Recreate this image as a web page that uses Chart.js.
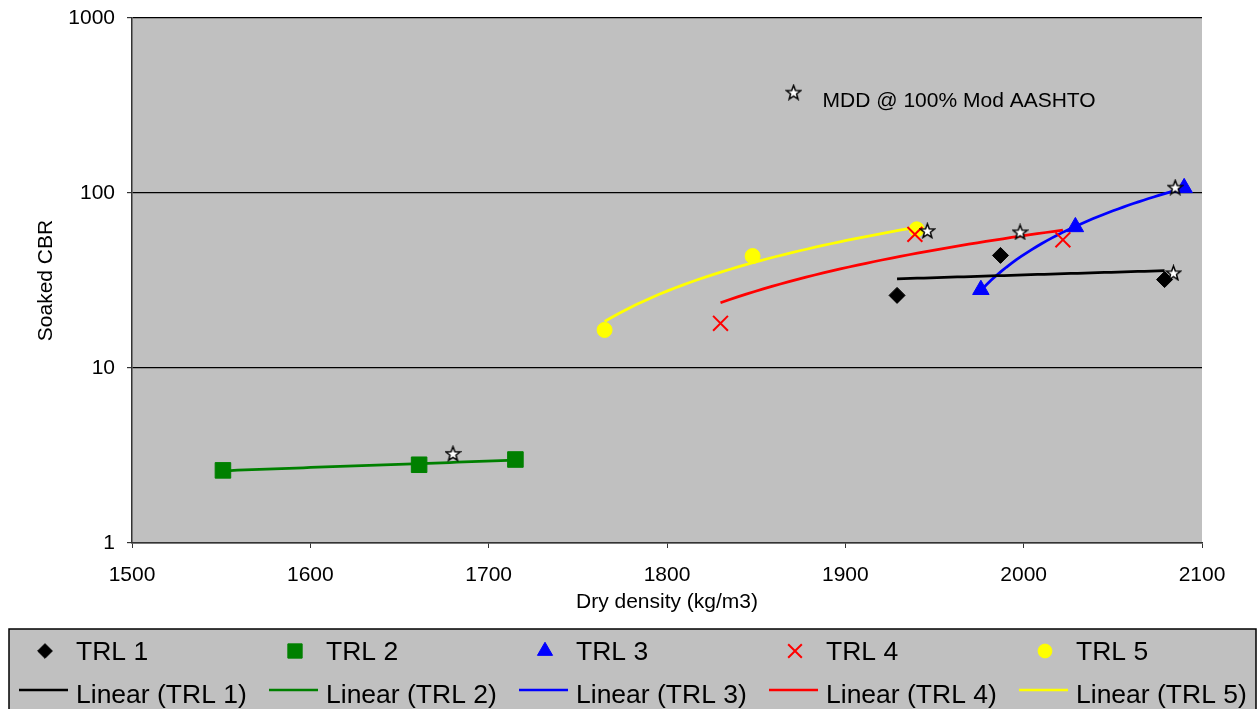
<!DOCTYPE html>
<html>
<head>
<meta charset="utf-8">
<title>Soaked CBR vs dry density</title>
<script src="https://cdn.jsdelivr.net/npm/chart.js@4/dist/chart.umd.min.js"></script>
<style>
  html, body { margin: 0; padding: 0; background: #fff; }
  #wrap { width: 1257px; height: 709px; position: relative; }
</style>
</head>
<body>
<div id="wrap"><canvas id="cbr-chart"></canvas></div>
<script>
// TRL samples: dry density (kg/m3) against soaked CBR
const trl1Density = [1929, 1987, 2079];
const trl1Cbr = [26, 44, 32];
const trl2Density = [1551, 1661, 1715];
const trl2Cbr = [2.6, 2.8, 3.0];
const trl3Density = [1976, 2029, 2090];
const trl3Cbr = [28, 64, 107];
const trl4Density = [1830, 1939, 2022];
const trl4Cbr = [18, 58, 54];
const trl5Density = [1765, 1848, 1940];
const trl5Cbr = [16.5, 43.6, 62];

// MDD @ 100% Mod AASHTO markers (the last one is the key beside the note)
const mddDensity = [1680, 1946, 1998, 2084, 2085, 1871];
const mddCbr = [3.25, 61, 60, 35, 108, 377];

const xTicks = [1500, 1600, 1700, 1800, 1900, 2000, 2100];
const yTicks = [1, 10, 100, 1000];

const FONT = '"Liberation Sans", Arial, sans-serif';
Chart.defaults.font.family = FONT;
Chart.defaults.color = '#000';

function toPoints(xs, ys) {
    return xs.map((x, i) => ({ x: x, y: ys[i] }));
}

// Least squares straight line through a series, sampled so it bends on the log axis
function linearTrend(xs, ys) {
    const n = xs.length;
    const mx = xs.reduce((a, b) => a + b, 0) / n;
    const my = ys.reduce((a, b) => a + b, 0) / n;
    let sxy = 0, sxx = 0;
    for (let i = 0; i < n; i++) {
        sxy += (xs[i] - mx) * (ys[i] - my);
        sxx += (xs[i] - mx) * (xs[i] - mx);
    }
    const slope = sxy / sxx;
    const lo = Math.min(...xs), hi = Math.max(...xs);
    const pts = [];
    const steps = 40;
    for (let i = 0; i <= steps; i++) {
        const x = lo + (hi - lo) * i / steps;
        pts.push({ x: x, y: my + slope * (x - mx) });
    }
    return pts;
}

// White five point star with a black outline
function makeStar(size) {
    const c = document.createElement('canvas');
    c.width = size;
    c.height = size;
    const g = c.getContext('2d');
    const cx = size / 2, cy = size / 2 + 0.8;
    const ro = size / 2 - 1, ri = ro * 0.42;
    g.beginPath();
    for (let i = 0; i < 10; i++) {
        const r = i % 2 ? ri : ro;
        const ang = -Math.PI / 2 + i * Math.PI / 5;
        g.lineTo(cx + r * Math.cos(ang), cy + r * Math.sin(ang));
    }
    g.closePath();
    g.fillStyle = '#fff';
    g.fill();
    g.strokeStyle = '#000';
    g.lineWidth = 1.5;
    g.lineJoin = 'miter';
    g.stroke();
    return c;
}

const markerSets = [
    { label: 'TRL 1', xs: trl1Density, ys: trl1Cbr, color: '#000000', style: 'rectRot', radius: 8, width: 1 },
    { label: 'TRL 2', xs: trl2Density, ys: trl2Cbr, color: '#008000', style: 'rect', radius: 11, width: 1 },
    { label: 'TRL 3', xs: trl3Density, ys: trl3Cbr, color: '#0000FF', style: 'triangle', radius: 9.5, width: 1 },
    { label: 'TRL 4', xs: trl4Density, ys: trl4Cbr, color: '#FF0000', style: 'crossRot', radius: 10.5, width: 2 },
    { label: 'TRL 5', xs: trl5Density, ys: trl5Cbr, color: '#FFFF00', style: 'circle', radius: 7.5, width: 1 }
];

const datasets = [];
markerSets.forEach(s => {
    datasets.push({
        label: s.label,
        data: toPoints(s.xs, s.ys),
        pointStyle: s.style,
        pointRadius: s.radius,
        backgroundColor: s.color,
        borderColor: s.color,
        borderWidth: s.width,
        showLine: false,
        order: 1
    });
});
markerSets.forEach(s => {
    datasets.push({
        label: 'Linear (' + s.label + ')',
        data: linearTrend(s.xs, s.ys),
        showLine: true,
        pointRadius: 0,
        borderColor: s.color,
        backgroundColor: s.color,
        borderWidth: 2.75,
        tension: 0,
        order: 2
    });
});
datasets.push({
    label: 'MDD @ 100% Mod AASHTO',
    data: toPoints(mddDensity, mddCbr),
    pointStyle: makeStar(17),
    pointRadius: 8,
    showLine: false,
    order: 0
});

// Grey plot area like the original spreadsheet chart
const plotBackground = {
    id: 'plotBackground',
    beforeDraw(chart) {
        const { ctx, chartArea: a } = chart;
        ctx.save();
        ctx.fillStyle = '#C0C0C0';
        ctx.fillRect(a.left, a.top, a.right - a.left, a.bottom - a.top);
        ctx.restore();
    }
};

// Note text beside the key star
const mddNote = {
    id: 'mddNote',
    afterDatasetsDraw(chart) {
        const meta = chart.getDatasetMeta(10);
        const key = meta.data[meta.data.length - 1];
        const ctx = chart.ctx;
        ctx.save();
        ctx.font = '21px ' + FONT;
        ctx.fillStyle = '#000';
        ctx.textAlign = 'left';
        ctx.textBaseline = 'alphabetic';
        ctx.fillText('MDD @ 100% Mod AASHTO', key.x + 29, key.y + 15);
        ctx.restore();
    }
};

// Boxed legend below the chart, five columns and two rows
const bottomLegend = {
    id: 'bottomLegend',
    afterDraw(chart) {
        const ctx = chart.ctx;
        ctx.save();
        ctx.fillStyle = '#C0C0C0';
        ctx.fillRect(9, 629, 1247, 90);
        ctx.strokeStyle = '#000';
        ctx.lineWidth = 1.5;
        ctx.strokeRect(9, 629, 1247, 90);
        ctx.font = '26.5px ' + FONT;
        ctx.textAlign = 'left';
        ctx.textBaseline = 'alphabetic';
        for (let i = 0; i < 5; i++) {
            const col = 250 * i;
            const ds = chart.data.datasets[i];
            ctx.fillStyle = ds.backgroundColor;
            ctx.strokeStyle = ds.borderColor;
            ctx.lineWidth = ds.borderWidth;
            Chart.helpers.drawPoint(ctx, {
                pointStyle: ds.pointStyle,
                radius: ds.pointRadius * 0.92,
                rotation: 0,
                borderWidth: ds.borderWidth
            }, 45 + col, 651);
            ctx.fillStyle = '#000';
            ctx.fillText(ds.label, 76 + col, 660);

            const tr = chart.data.datasets[5 + i];
            ctx.strokeStyle = tr.borderColor;
            ctx.lineWidth = 2.5;
            ctx.beginPath();
            ctx.moveTo(19 + col, 690);
            ctx.lineTo(68 + col, 690);
            ctx.stroke();
            ctx.fillStyle = '#000';
            ctx.fillText(tr.label, 76 + col, 703);
        }
        ctx.restore();
    }
};

const ctx = document.getElementById('cbr-chart');
new Chart(ctx, {
    type: 'scatter',
    data: { datasets: datasets },
    plugins: [plotBackground, mddNote, bottomLegend],
    options: {
        responsive: true,
        maintainAspectRatio: false,
        animation: false,
        events: [],
        layout: { padding: { top: 18, right: 55, bottom: 94, left: 34 } },
        plugins: {
            legend: { display: false },
            tooltip: { enabled: false }
        },
        scales: {
            x: {
                type: 'linear',
                min: 1500,
                max: 2100,
                afterBuildTicks: s => { s.ticks = xTicks.map(v => ({ value: v })); },
                afterFit: s => { s.height = 72; },
                grid: { drawOnChartArea: false, drawTicks: true, tickLength: 5, color: '#333', tickColor: '#333' },
                border: { color: '#333', width: 1.5 },
                ticks: {
                    padding: 15,
                    color: '#000',
                    font: { size: 21 },
                    maxRotation: 0,
                    autoSkip: false,
                    callback: v => String(v)
                },
                title: {
                    display: true,
                    text: 'Dry density (kg/m3)',
                    color: '#000',
                    font: { size: 21 },
                    padding: 0
                }
            },
            y: {
                type: 'logarithmic',
                min: 1,
                max: 1000,
                afterBuildTicks: s => { s.ticks = yTicks.map(v => ({ value: v })); },
                afterFit: s => { s.width = 98; s.paddingTop = 0; s.paddingBottom = 0; },
                grid: { color: '#000', lineWidth: 1.2, tickLength: 5, tickColor: '#333' },
                border: { color: '#333', width: 1.5 },
                ticks: {
                    padding: 12,
                    color: '#000',
                    font: { size: 21 },
                    autoSkip: false,
                    callback: v => String(v)
                },
                title: {
                    display: true,
                    text: 'Soaked CBR',
                    color: '#000',
                    font: { size: 21 },
                    padding: 0
                }
            }
        }
    }
});
</script>
</body>
</html>
